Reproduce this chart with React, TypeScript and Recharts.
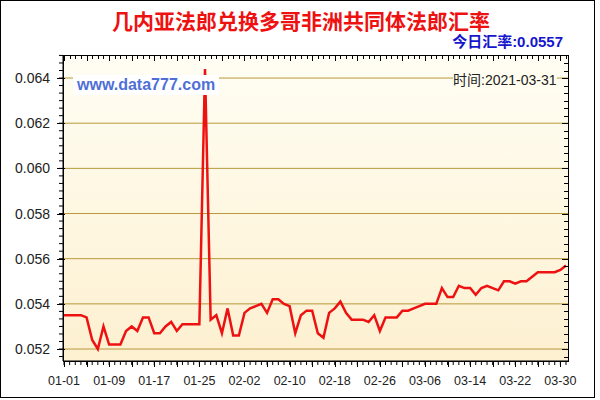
import { LineChart, Line, XAxis, YAxis, CartesianGrid } from "recharts";

const dates = [
  "01-01", "01-02", "01-03", "01-04", "01-05", "01-06", "01-07", "01-08", "01-09", "01-10",
  "01-11", "01-12", "01-13", "01-14", "01-15", "01-16", "01-17", "01-18", "01-19", "01-20",
  "01-21", "01-22", "01-23", "01-24", "01-25", "01-26", "01-27", "01-28", "01-29", "01-30",
  "01-31", "02-01", "02-02", "02-03", "02-04", "02-05", "02-06", "02-07", "02-08", "02-09",
  "02-10", "02-11", "02-12", "02-13", "02-14", "02-15", "02-16", "02-17", "02-18", "02-19",
  "02-20", "02-21", "02-22", "02-23", "02-24", "02-25", "02-26", "02-27", "02-28", "03-01",
  "03-02", "03-03", "03-04", "03-05", "03-06", "03-07", "03-08", "03-09", "03-10", "03-11",
  "03-12", "03-13", "03-14", "03-15", "03-16", "03-17", "03-18", "03-19", "03-20", "03-21",
  "03-22", "03-23", "03-24", "03-25", "03-26", "03-27", "03-28", "03-29", "03-30", "03-31",
];

const rates = [
  0.0535, 0.0535, 0.0535, 0.0535, 0.0534, 0.0524, 0.052, 0.053, 0.0522, 0.0522,
  0.0522, 0.0528, 0.053, 0.0528, 0.0534, 0.0534, 0.0527, 0.0527, 0.053, 0.0532,
  0.0528, 0.0531, 0.0531, 0.0531, 0.0531, 0.0644, 0.0533, 0.0535, 0.0527, 0.0538,
  0.0526, 0.0526, 0.0536, 0.0538, 0.0539, 0.054, 0.0536, 0.0542, 0.0542, 0.054,
  0.0539, 0.0527, 0.0535, 0.0537, 0.0537, 0.0527, 0.0525, 0.0536, 0.0538, 0.0541,
  0.0536, 0.0533, 0.0533, 0.0533, 0.0532, 0.0535, 0.0528, 0.0534, 0.0534, 0.0534,
  0.0537, 0.0537, 0.0538, 0.0539, 0.054, 0.054, 0.054, 0.0547, 0.0543, 0.0543,
  0.0548, 0.0547, 0.0547, 0.0544, 0.0547, 0.0548, 0.0547, 0.0546, 0.055, 0.055,
  0.0549, 0.055, 0.055, 0.0552, 0.0554, 0.0554, 0.0554, 0.0554, 0.0555, 0.0557,
];

const dateLabels = ["01-01", "01-09", "01-17", "01-25", "02-02", "02-10", "02-18", "02-26", "03-06", "03-14", "03-22", "03-30"];
const rateTicks = [0.052, 0.054, 0.056, 0.058, 0.06, 0.062, 0.064];

const data = dates.map((date, i) => ({ date, rate: rates[i] }));

// plot box in page pixels
const LEFT = 63;
const RIGHT = 568;
const TOP = 55;
const BOTTOM = 361;
const Y_DOMAIN: [number, number] = [0.05147, 0.06502];

// six small steps between each labelled value
const minorTicks: number[] = [];
for (let k = -1; k <= 39; k++) minorTicks.push(+(0.052 + (k * 0.002) / 6).toFixed(6));

const isMajor = (v: number) => rateTicks.some((t) => Math.abs(t - v) < 1e-7);
const AXIS_FONT = "'Liberation Sans', Arial, sans-serif";

// label on the left, mirrored tick inside the right border
const RateTick = (props: any) => {
  const { y, payload } = props;
  const major = isMajor(payload.value);
  const yy = Math.round(y) + 0.5;
  return (
    <g>
      <path d={`M${RIGHT - (major ? 6 : 4)},${yy}H${RIGHT}`} stroke="#000" strokeWidth={1} fill="none" />
      {major && <path d={`M${LEFT - 6},${yy}H${LEFT + 2}`} stroke="#000" strokeWidth={1} fill="none" />}
      {major && (
        <text x={50} y={y + 5} textAnchor="end" fontSize={14} fill="#222" fontFamily={AXIS_FONT}>
          {payload.value.toFixed(3)}
        </text>
      )}
    </g>
  );
};

// label below, mirrored tick inside the top border
const DateTick = (props: any) => {
  const { x, payload } = props;
  const major = dates.indexOf(payload.value) % 4 === 0;
  const xx = Math.round(x) + 0.5;
  return (
    <g>
      <path d={`M${xx},${TOP}V${TOP + (major ? 6 : 4)}`} stroke="#000" strokeWidth={1} fill="none" />
      {major && <path d={`M${xx},${BOTTOM}V${BOTTOM + 6}`} stroke="#000" strokeWidth={1} fill="none" />}
      {dateLabels.includes(payload.value) && (
        <text x={x} y={BOTTOM + 24} textAnchor="middle" fontSize={12.5} fill="#222" fontFamily={AXIS_FONT}>
          {payload.value}
        </text>
      )}
    </g>
  );
};

export default function App() {
  return (
    <div style={{ position: "absolute", left: 0, top: 0, width: 600, height: 400, background: "#fff", overflow: "hidden" }}>
      <div
        style={{
          position: "absolute",
          left: LEFT,
          top: TOP,
          width: RIGHT - LEFT,
          height: BOTTOM - TOP,
          background: "linear-gradient(#fffef4, #fdf0d0)",
        }}
      />
      <div style={{ position: "absolute", left: 0, top: 0 }}>
        <LineChart width={600} height={400} data={data} margin={{ top: TOP, right: 600 - RIGHT, bottom: 0, left: 0 }}>
          <CartesianGrid horizontal vertical={false} horizontalValues={rateTicks} stroke="#b8983a" />
          <XAxis
            dataKey="date"
            interval={0}
            height={400 - BOTTOM}
            padding={{ left: 1, right: 2 }}
            axisLine={{ stroke: "#000" }}
            tickLine={{ stroke: "#000" }}
            tickSize={4}
            tick={<DateTick />}
          />
          <YAxis
            type="number"
            domain={Y_DOMAIN}
            allowDataOverflow
            ticks={minorTicks}
            interval={0}
            width={LEFT}
            axisLine={{ stroke: "#000" }}
            tickLine={{ stroke: "#000" }}
            tickSize={4}
            tick={<RateTick />}
          />
          <Line
            type="linear"
            dataKey="rate"
            stroke="#ee1111"
            strokeWidth={2.5}
            dot={false}
            isAnimationActive={false}
          />
        </LineChart>
      </div>
      <div
        style={{
          position: "absolute",
          left: LEFT,
          top: TOP,
          width: RIGHT - LEFT + 1,
          height: BOTTOM - TOP + 1,
          border: "1px solid #000",
          boxSizing: "border-box",
          pointerEvents: "none",
        }}
      />
      <div
        style={{
          position: "absolute",
          left: 0,
          top: 8,
          width: 602,
          textAlign: "center",
          fontFamily: "'Noto Sans CJK SC', sans-serif",
          fontWeight: 700,
          fontSize: 21,
          lineHeight: "24px",
          color: "#ee1111",
        }}
      >
        几内亚法郎兑换多哥非洲共同体法郎汇率
      </div>
      <div
        style={{
          position: "absolute",
          right: 600 - 563,
          top: 33,
          fontFamily: "'Liberation Sans', 'Noto Sans CJK SC', sans-serif",
          fontWeight: 700,
          fontSize: 15,
          lineHeight: "18px",
          color: "#1616cc",
        }}
      >
        今日汇率:0.0557
      </div>
      <div
        style={{
          position: "absolute",
          left: 73,
          top: 75,
          padding: "0 4px",
          background: "#fff",
          fontFamily: AXIS_FONT,
          fontWeight: 700,
          fontSize: 16,
          lineHeight: "20px",
          color: "#4f6fd8",
        }}
      >
        www.data777.com
      </div>
      <div
        style={{
          position: "absolute",
          left: 453,
          top: 72,
          background: "#fffdf0",
          fontFamily: "'Liberation Sans', 'Noto Sans CJK SC', sans-serif",
          fontSize: 14,
          lineHeight: "17px",
          color: "#222",
        }}
      >
        时间:2021-03-31
      </div>
      <div
        style={{
          position: "absolute",
          left: 0,
          top: 0,
          width: 595,
          height: 398,
          border: "1px solid #000",
          boxSizing: "border-box",
          pointerEvents: "none",
        }}
      />
    </div>
  );
}
